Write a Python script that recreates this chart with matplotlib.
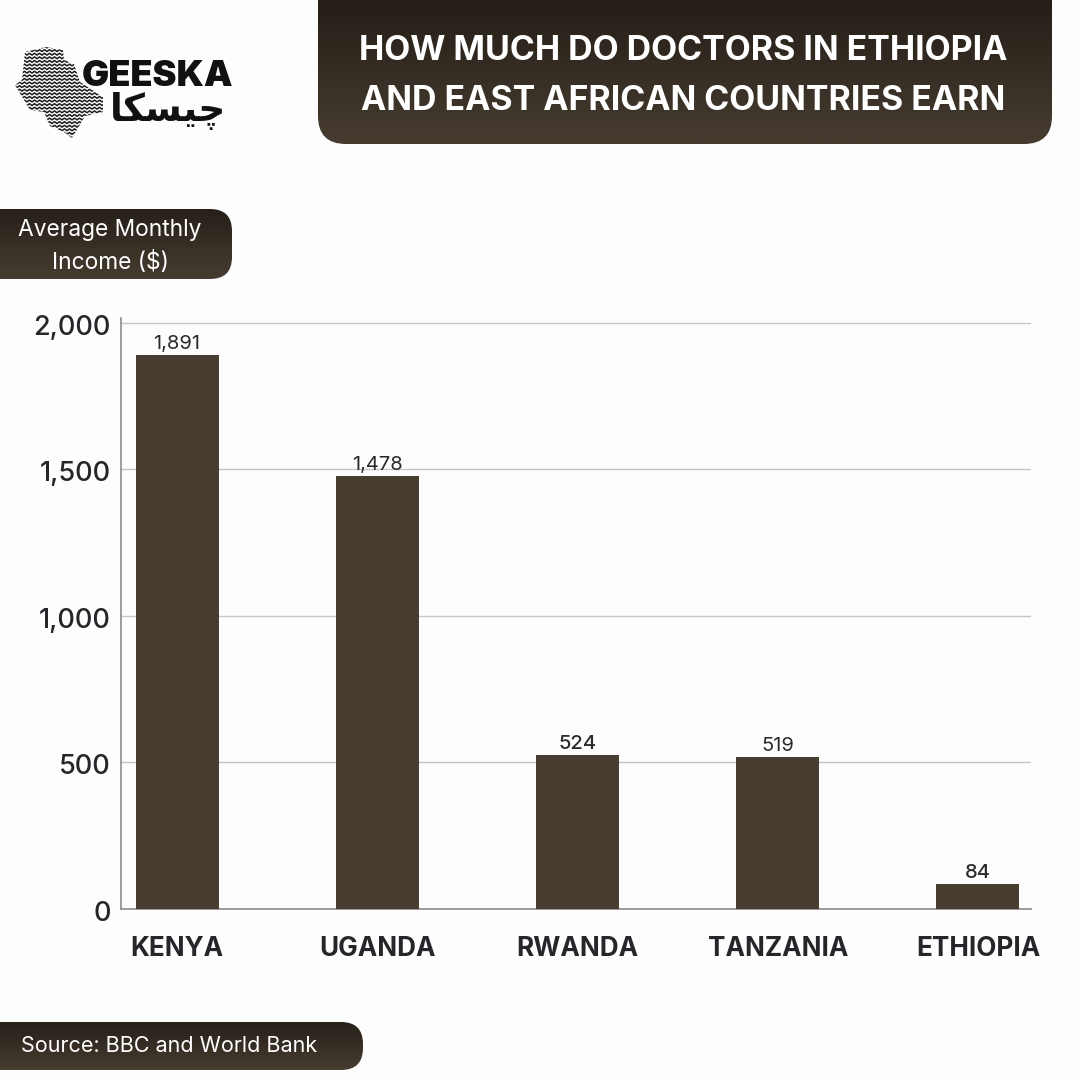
import numpy as np
import matplotlib
matplotlib.use("Agg")
import matplotlib.pyplot as plt
from matplotlib.patches import FancyBboxPatch, Polygon
from matplotlib.transforms import ScaledTranslation

countries = ["KENYA", "UGANDA", "RWANDA", "TANZANIA", "ETHIOPIA"]
income = [1891, 1478, 524, 519, 84]
bar_labels = ["1,891", "1,478", "524", "519", "84"]
label_weights = ["normal", "normal", "medium", "normal", "medium"]
y_ticks = [0, 500, 1000, 1500, 2000]
y_tick_labels = ["0", "500", "1,000", "1,500", "2,000"]

BROWN = "#483d31"
INK = "#25262a"
W, H = 1080, 1080

plt.rcParams["font.family"] = ["Inter", "DejaVu Sans"]


def gradient_box(ov, x0, y0, x1, y1, radius, top="#272019"):
    """Rounded box with the dark top to brown bottom gradient (pixel coords)."""
    grad = np.linspace(0, 1, 64).reshape(-1, 1)
    cmap = matplotlib.colors.LinearSegmentedColormap.from_list("box", [top, "#463c30"])
    im = ov.imshow(grad, cmap=cmap, extent=[x0, x1, y1, y0], aspect="auto", zorder=2)
    patch = FancyBboxPatch((x0, y0), x1 - x0, y1 - y0, transform=ov.transData,
                           boxstyle=f"round,pad=0,rounding_size={radius}",
                           fc="none", ec="none", zorder=2)
    ov.add_patch(patch)
    im.set_clip_path(patch)


def draw_logo(ov):
    """Wavy map shape with the wordmark on top."""
    outline = [(46, 47), (63, 50), (64, 60), (74, 64), (80, 82), (103, 97), (103, 112),
               (85, 116), (78, 128), (72, 138), (64, 132), (50, 126), (44, 112), (30, 110),
               (15, 85), (22, 80), (25, 52)]
    shape = Polygon(outline, closed=True, fc="none", ec="none", transform=ov.transData)
    ov.add_patch(shape)
    for y in np.arange(47, 140, 3.6):
        xs = np.arange(12, 108, 2.5)
        ys = y + 0.9 * (-1.0) ** np.arange(len(xs))
        ln, = ov.plot(xs, ys, color="#1c1c1c", lw=1.1, zorder=3)
        ln.set_clip_path(shape)
    ov.text(158, 76, "GEESKA", ha="center", va="center", fontsize=26, fontweight="black",
            color="#111111", zorder=4)
    # presentation forms in visual order, matplotlib does no shaping
    ov.text(168, 111, "\ufe8e\ufedc\ufeb4\ufef4\ufb7c", ha="center", va="center", fontsize=27,
            fontweight="bold", family=["DejaVu Sans"], color="#111111", zorder=4)


fig = plt.figure(figsize=(W / 100, H / 100), dpi=100, facecolor="#fdfdfd")

# chart
ax = fig.add_axes([121 / W, 1 - 909 / H, (1031 - 121) / W, (909 - 318) / H])
ax.set_facecolor("none")
x = np.arange(len(countries))
ax.bar(x, income, width=0.4145, color=BROWN, zorder=3)
ax.set_xlim(-0.28, 4.265)
ax.set_ylim(0, 2017)
ax.set_yticks(y_ticks)
ax.set_yticklabels(y_tick_labels)
ax.grid(axis="y", color="#c6c6c6", lw=1, zorder=1)
ax.set_axisbelow(True)
ax.set_xticks(x)
ax.set_xticklabels(countries, fontsize=18.8, fontweight="bold", color=INK)
ax.tick_params(axis="x", length=0, pad=19.5)
ax.tick_params(axis="y", length=0, pad=7.5, labelsize=19.5, labelcolor=INK)
shift = ScaledTranslation(0, -2 / 100, fig.dpi_scale_trans)
for lbl in ax.get_yticklabels():
    lbl.set_fontweight("medium")
    lbl.set_transform(lbl.get_transform() + shift)
for s in ["top", "right"]:
    ax.spines[s].set_visible(False)
for s in ["left", "bottom"]:
    ax.spines[s].set_color("#8c8c8c")
    ax.spines[s].set_linewidth(1.2)
for xi, val, txt, wt in zip(x, income, bar_labels, label_weights):
    ax.annotate(txt, (xi, val), xytext=(0, 1.5), textcoords="offset points", ha="center",
                va="bottom", fontsize=14.5, fontweight=wt, color="#2b2b2b", zorder=4)

# overlay in pixel coords for header, badges and logo
ov = fig.add_axes([0, 0, 1, 1], zorder=5)
ov.patch.set_alpha(0)
ov.axis("off")

gradient_box(ov, 318, -40, 1052, 144, 28, top="#1c1610")
gradient_box(ov, -30, 209, 232, 279, 22)
gradient_box(ov, -30, 1022, 363, 1070, 22)
ov.set_xlim(0, W)
ov.set_ylim(H, 0)

ov.text(683, 51, "HOW MUCH DO DOCTORS IN ETHIOPIA", ha="center", va="center", fontsize=24.4,
        fontweight="bold", color="white", zorder=4)
ov.text(683, 101, "AND EAST AFRICAN COUNTRIES EARN", ha="center", va="center", fontsize=24.4,
        fontweight="bold", color="white", zorder=4)
ov.text(110, 230, "Average Monthly", ha="center", va="center", fontsize=16.4, color="white", zorder=4)
ov.text(110, 262, "Income ($)", ha="center", va="center", fontsize=16.4, color="white", zorder=4)
ov.text(21, 1046, "Source: BBC and World Bank", ha="left", va="center", fontsize=15.5,
        color="white", zorder=4)
draw_logo(ov)

fig.savefig("out.png", dpi=100, facecolor=fig.get_facecolor())
